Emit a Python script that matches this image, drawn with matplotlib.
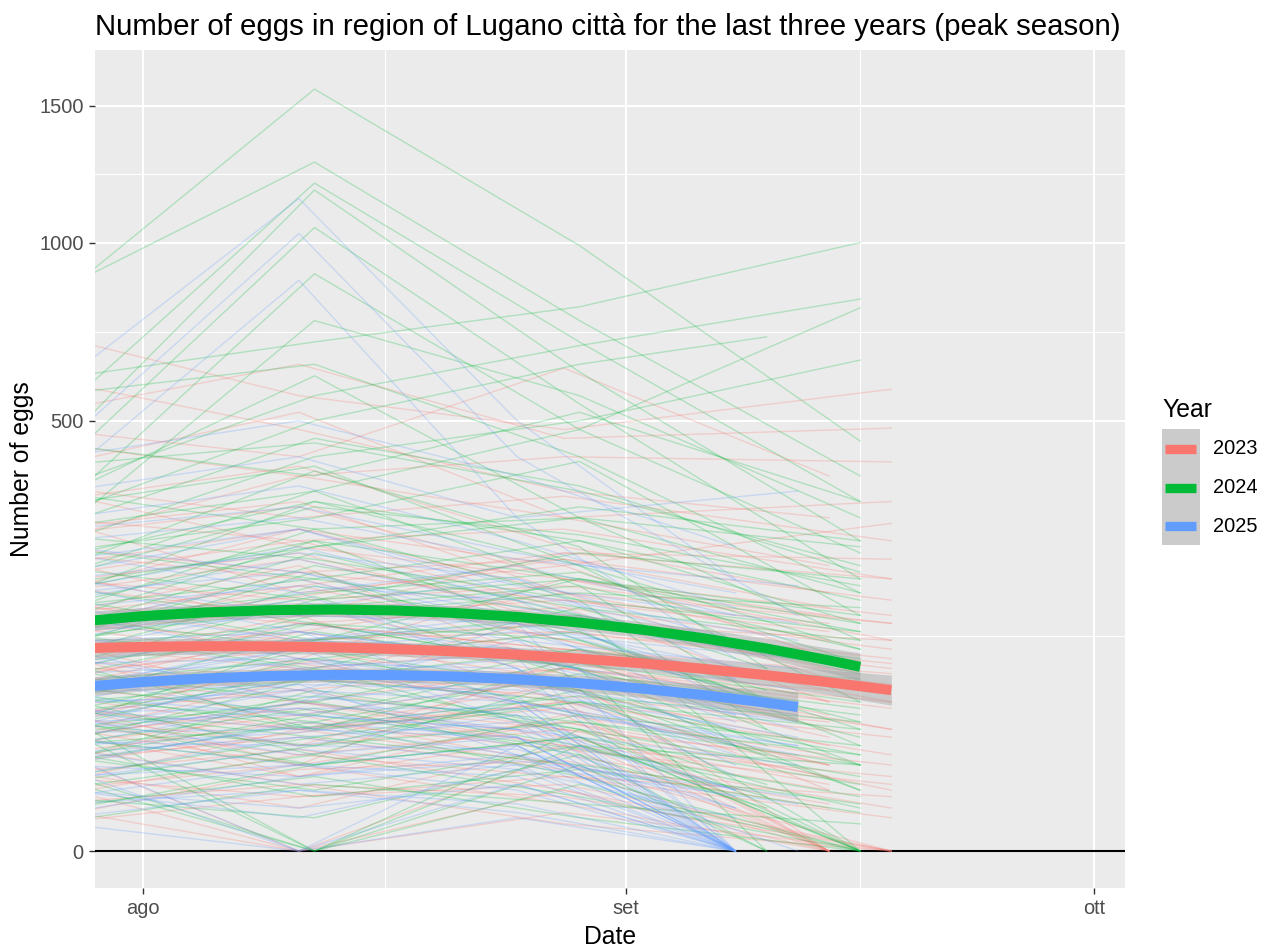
import matplotlib
matplotlib.use('Agg')
import matplotlib.pyplot as plt
import matplotlib.dates as mdates
from matplotlib.lines import Line2D
from matplotlib.patches import Rectangle
import numpy as np
from datetime import date

plt.rcParams['font.family'] = ['Liberation Sans', 'DejaVu Sans']

# ---------------- data ----------------
years = ['2023', '2024', '2025']
colors = {'2023': '#F8766D', '2024': '#00BA38', '2025': '#619CFF'}

# sampling dates of each season (a None in a trap row = no sample that day)
dates_2023 = ['2023-07-26', '2023-08-11', '2023-08-28', '2023-09-14', '2023-09-18']
dates_2024 = ['2024-07-26', '2024-08-12', '2024-08-29', '2024-09-10', '2024-09-16']
dates_2025 = ['2025-07-27', '2025-08-11', '2025-08-25', '2025-09-08', '2025-09-12']

# eggs per trap
traps_2023 = [
    [720, 560, 480, None, 576], [520, 640, 460, None, 483], [450, 380, 420, None, 409],
    [600, 480, 350, 300, None], [400, 520, 300, 220, None], [360, 300, 340, None, 260],
    [330, 400, 250, 180, None], [300, 260, 280, None, 200], [270, 320, 200, 150, None],
    [250, 210, 230, None, 170], [220, 280, 180, 120, None], [200, 170, 190, None, 140],
    [180, 230, 150, 90, None], [165, 140, 160, None, 110], [150, 190, 120, 60, None],
    [140, 120, 130, None, 95], [125, 160, 100, 40, None], [115, 90, 110, None, 75],
    [105, 130, 85, 0, None], [95, 70, 90, None, 55], [85, 110, 70, 30, None],
    [75, 50, 80, None, 40], [65, 90, 55, 0, None], [55, 40, 60, None, 25],
    [50, 70, 40, 15, None], [42, 20, 45, None, 10], [35, 55, 30, 0, None],
    [28, 0, 25, None, 5], [22, 35, 18, 0, None], [15, 8, 12, None, 0],
    [10, 20, 6, 0, None], [5, 0, 4, None, 0], [260, 380, 300, None, 330],
    [190, 150, 240, None, 230], [130, 210, 170, 130, None], [80, 120, 140, None, 120],
    [60, 30, 90, 70, None], [480, 420, 630, 380, None],
    [90, 150, 60, 20, None], [160, 100, 200, None, 150], [210, 140, 110, 80, None],
    [45, 95, 130, None, 90], [300, 180, 220, 100, None], [120, 60, 40, 0, None],
    [70, 130, 180, None, 140], [240, 200, 120, None, 60], [35, 80, 65, 45, None],
    [180, 280, 220, None, 290], [110, 40, 75, 10, None], [150, 220, 90, None, 40],
    [60, 20, 100, 50, None], [280, 330, 180, 80, None], [20, 60, 90, None, 60],
    [135, 175, 230, 160, None], [85, 60, 30, None, 15], [230, 150, 170, 140, None],
    [40, 100, 50, 0, None], [195, 240, 140, None, 100], [100, 80, 150, 100, None],
    [350, 250, 200, None, 120], [12, 40, 55, 20, None], [170, 120, 80, 35, None],
    [75, 140, 110, None, 85], [55, 15, 35, 0, None], [125, 190, 240, None, 200],
    [205, 260, 160, 60, None], [30, 50, 20, None, 0], [140, 95, 60, 0, None],
    [8, 25, 40, None, 20], [18, 5, 30, 10, None], [30, 12, 8, None, 0],
    [3, 18, 22, 6, None], [45, 25, 15, None, 8], [12, 0, 10, 0, None],
    [25, 45, 28, None, 12], [38, 15, 50, 25, None], [6, 12, 2, None, 0],
    [50, 30, 45, 20, None], [20, 38, 60, None, 35], [65, 40, 20, 5, None],
    [2, 8, 15, None, 3], [33, 60, 35, 12, None], [16, 28, 10, None, 0],
]
traps_2024 = [
    [805, 1568, 990, None, 454], [835, 1282, 760, None, 380], [500, 1205, 700, None, 330],
    [420, 1180, 620, None, 260], [380, 1050, 540, None, 200], [300, 900, 480, None, 240],
    [260, 760, 560, None, 300], [600, 700, 800, None, 1000], [350, 560, 690, None, 823],
    [200, 350, 480, None, 797], [250, 420, 500, None, 651], [300, 500, 640, 714, None],
    [560, 640, 420, None, 180], [450, 380, 520, None, 330], [330, 610, 300, None, 120],
    [280, 460, 360, None, 210], [240, 300, 410, None, 150], [210, 390, 250, 90, None],
    [190, 250, 300, None, 180], [170, 330, 220, None, 60], [160, 200, 260, None, 140],
    [150, 280, 170, 40, None], [140, 180, 210, None, 95], [130, 240, 150, None, 0],
    [120, 160, 190, None, 110], [110, 140, 120, 70, None], [100, 190, 130, None, 30],
    [95, 120, 150, None, 85], [90, 60, 110, None, 45], [80, 140, 90, 0, None],
    [75, 100, 70, None, 20], [70, 40, 95, None, 60], [60, 110, 50, None, 0],
    [55, 0, 40, None, 15], [50, 80, 60, 25, None], [45, 30, 70, None, 10],
    [40, 90, 35, None, 0], [35, 20, 50, None, 30], [30, 55, 25, 0, None],
    [25, 10, 30, None, 5], [20, 45, 15, None, 0], [15, 0, 20, 0, None],
    [10, 25, 8, None, 0], [5, 15, 3, None, 0],
    [180, 260, 120, None, 40], [90, 170, 200, None, 130], [250, 200, 150, None, 90],
    [60, 130, 90, 30, None], [320, 400, 220, None, 110], [130, 90, 160, None, 120],
    [200, 320, 270, None, 190], [110, 210, 100, None, 20], [40, 120, 140, None, 100],
    [280, 350, 190, 60, None], [150, 110, 70, None, 0], [85, 150, 180, None, 160],
    [220, 170, 240, None, 200], [65, 25, 80, None, 50], [350, 280, 300, None, 250],
    [120, 220, 160, 90, None], [30, 80, 110, None, 70], [190, 140, 90, None, 35],
    [160, 250, 320, None, 260], [100, 40, 60, None, 25], [270, 230, 170, None, 130],
    [50, 100, 130, 60, None], [140, 260, 200, None, 140], [230, 330, 260, None, 170],
    [75, 50, 100, None, 80], [400, 450, 350, None, 220], [20, 70, 40, None, 0],
    [175, 120, 200, None, 150], [115, 175, 80, None, 10], [45, 0, 30, None, 20],
    [12, 30, 45, None, 25], [28, 8, 18, None, 4], [40, 60, 30, 8, None],
    [4, 20, 35, None, 12], [55, 35, 60, None, 40], [18, 0, 12, None, 0],
    [35, 65, 45, None, 20], [8, 3, 25, 5, None], [65, 45, 85, None, 55],
    [22, 50, 28, None, 8], [48, 20, 35, None, 0], [2, 12, 6, None, 2],
    [30, 42, 65, None, 45], [58, 80, 40, 12, None], [14, 35, 20, None, 6],
]
traps_2025 = [
    [600, 1150, 500, 200, None], [450, 1030, 420, None, 150], [380, 880, 300, 100, None],
    [420, 500, 380, 250, None], [350, 420, 300, None, 350], [300, 360, 260, 160, None],
    [260, 300, 230, None, 190], [230, 280, 180, 120, None], [200, 240, 200, 90, None],
    [180, 210, 150, None, 100], [160, 190, 170, 60, None], [145, 160, 120, 30, None],
    [130, 150, 140, None, 80], [118, 130, 100, 0, None], [105, 120, 110, 45, None],
    [95, 100, 85, None, 50], [85, 95, 90, 20, None], [75, 80, 65, 0, None],
    [68, 75, 70, None, 35], [60, 65, 50, 10, None], [52, 55, 55, 0, None],
    [45, 50, 40, None, 20], [38, 40, 35, 0, None], [32, 30, 28, 5, None],
    [26, 35, 20, 0, None], [20, 15, 22, None, 8], [15, 20, 10, 0, None],
    [10, 5, 12, 0, None], [6, 10, 4, 0, None], [2, 0, 3, 0, None],
    [110, 60, 140, 80, None], [70, 110, 45, 0, None], [40, 70, 60, 30, None],
    [25, 0, 30, 0, None],
    [120, 180, 90, 0, None], [200, 150, 180, None, 120], [70, 120, 150, 80, None],
    [250, 210, 140, 50, None], [40, 90, 60, None, 30], [150, 100, 60, 0, None],
    [90, 140, 110, None, 70], [30, 60, 80, 40, None], [170, 230, 160, None, 110],
    [55, 30, 50, 0, None], [110, 160, 200, 120, None], [210, 280, 190, None, 140],
    [80, 50, 40, 0, None], [140, 200, 130, 70, None], [20, 45, 35, 0, None],
    [190, 130, 100, None, 60], [60, 100, 75, 25, None], [100, 70, 120, None, 90],
    [240, 180, 220, 150, None], [35, 20, 15, 0, None], [130, 170, 90, 15, None],
    [75, 110, 130, None, 100], [15, 35, 45, 10, None], [160, 120, 140, 0, None],
    [50, 75, 25, None, 0], [280, 320, 240, 180, None], [95, 130, 60, 0, None],
    [125, 90, 105, None, 40], [45, 80, 100, 50, None], [185, 250, 170, 110, None],
    [8, 20, 30, 0, None], [28, 12, 20, None, 6], [40, 55, 30, 0, None],
    [4, 15, 25, 8, None], [55, 40, 60, None, 25], [18, 0, 12, 0, None],
    [35, 60, 40, 10, None], [10, 3, 18, 0, None], [65, 50, 75, None, 45],
    [22, 42, 25, 0, None], [48, 25, 35, 5, None], [3, 10, 6, 0, None],
    [30, 38, 55, None, 30], [58, 70, 35, 0, None], [14, 28, 18, 3, None],
]

# smoothed trend per year (month-day, eggs) and its band half width in sqrt units
smooth_dates_2023 = ['07-28', '08-01', '08-05', '08-09', '08-13', '08-17', '08-21', '08-25',
                     '08-29', '09-02', '09-06', '09-10', '09-14', '09-18']
smooth_2023 = [111.1, 112.6, 113.4, 113.2, 112.2, 110.3, 107.7, 104.2, 100.0, 95.2, 89.6, 83.5, 76.9, 69.9]
se_2023 = [0.5, 0.45, 0.4, 0.37, 0.36, 0.36, 0.36, 0.37, 0.39, 0.42, 0.47, 0.54, 0.64, 0.78]
smooth_dates_2024 = ['07-28', '08-01', '08-05', '08-09', '08-13', '08-17', '08-21', '08-25',
                     '08-29', '09-02', '09-06', '09-10', '09-14', '09-16']
smooth_2024 = [142.3, 149.1, 153.8, 156.6, 157.6, 156.4, 153.1, 148.1, 141.0, 132.4, 122.2, 110.8, 98.2, 91.7]
se_2024 = [0.5, 0.45, 0.4, 0.37, 0.36, 0.36, 0.36, 0.37, 0.39, 0.42, 0.47, 0.54, 0.64, 0.72]
smooth_dates_2025 = ['07-28', '08-01', '08-05', '08-09', '08-13', '08-17', '08-21', '08-25',
                     '08-29', '09-02', '09-06', '09-10', '09-12']
smooth_2025 = [72.7, 77.2, 80.5, 82.7, 83.8, 83.6, 82.3, 79.7, 76.1, 71.3, 65.7, 59.4, 56.0]
se_2025 = [0.5, 0.45, 0.4, 0.37, 0.36, 0.36, 0.37, 0.39, 0.42, 0.47, 0.55, 0.68, 0.78]

y_ticks = [0, 500, 1000, 1500]
x_ticks = ['2025-08-01', '2025-09-01', '2025-10-01']
x_labels = ['ago', 'set', 'ott']


def season_day(s):
    # put every season on the same calendar year
    p = s.split('-')
    return mdates.date2num(date(2025, int(p[-2]), int(p[-1])))


def fwd(v):
    return np.sign(v) * np.sqrt(np.abs(v))


def inv(v):
    return np.sign(v) * v ** 2


# ---------------- figure ----------------
W, H = 1269, 949
fig = plt.figure(figsize=(W / 100, H / 100), dpi=100)
ax = fig.add_axes([95 / W, 1 - 888 / H, 1030 / W, 838 / H])
ax.set_facecolor('#EBEBEB')
ax.set_axisbelow(True)
ax.set_yscale('function', functions=(fwd, inv))

ax.axhline(0, color='black', lw=1.5, zorder=1)

all_dates = {'2023': dates_2023, '2024': dates_2024, '2025': dates_2025}
all_traps = {'2023': traps_2023, '2024': traps_2024, '2025': traps_2025}
for yr in years:
    xd = [season_day(d) for d in all_dates[yr]]
    for row in all_traps[yr]:
        xs = [x for x, v in zip(xd, row) if v is not None]
        vs = [v for v in row if v is not None]
        ax.plot(xs, vs, color=colors[yr], alpha=0.25, lw=1.0, zorder=2)

smooths = {
    '2023': (smooth_dates_2023, smooth_2023, se_2023),
    '2024': (smooth_dates_2024, smooth_2024, se_2024),
    '2025': (smooth_dates_2025, smooth_2025, se_2025),
}
for yr in years:
    sd, sv, se = smooths[yr]
    xs = [season_day(d) for d in sd]
    root = np.sqrt(np.array(sv, dtype=float))
    lo = (root - np.array(se)) ** 2
    hi = (root + np.array(se)) ** 2
    ax.fill_between(xs, lo, hi, color='#999999', alpha=0.4, lw=0, zorder=3)
    ax.plot(xs, sv, color=colors[yr], lw=7.2, solid_capstyle='butt',
            solid_joinstyle='round', zorder=4)

# axes limits (ggplot style expansion)
aug1 = season_day('08-01')
ax.set_xlim(aug1 - 3.08, aug1 + 62.99)
ax.set_ylim(inv(-1.92), inv(41.63))

ax.set_yticks(y_ticks)
ax.set_yticklabels([str(t) for t in y_ticks])
ax.set_xticks([season_day(t) for t in x_ticks])
ax.set_xticklabels(x_labels)

# minor grid at the middle of the major breaks (in transformed space)
ymin = [inv((fwd(a) + fwd(b)) / 2) for a, b in zip(y_ticks[:-1], y_ticks[1:])]
xt = [season_day(t) for t in x_ticks]
xmin = [(a + b) / 2 for a, b in zip(xt[:-1], xt[1:])]
for v in ymin:
    ax.axhline(v, color='white', lw=0.75, zorder=0.5)
for v in xmin:
    ax.axvline(v, color='white', lw=0.75, zorder=0.5)
ax.grid(True, which='major', color='white', lw=1.5)
ax.minorticks_off()

for s in ax.spines.values():
    s.set_visible(False)
ax.tick_params(axis='both', length=4.5, width=1.0, color='#333333',
               labelcolor='#4D4D4D', labelsize=14.4, pad=3.6)

ax.set_xlabel('Date', fontsize=17.8, color='black', va='center')
ax.xaxis.set_label_coords(0.5, (888 - 937) / 838)
ax.set_ylabel('Number of eggs', fontsize=17.8, color='black', va='center')
ax.yaxis.set_label_coords((22 - 95) / 1030, 0.5)
fig.text(95 / W, 1 - 35 / H, 'Number of eggs in region of Lugano città for the last three years (peak season)',
         fontsize=21.2, ha='left', va='baseline', color='black')

# ---------------- legend ----------------
fig.text(1162 / W, 1 - 417 / H, 'Year', fontsize=17.8, ha='left', va='baseline')
fig.add_artist(Rectangle((1162 / W, 1 - 545 / H), 38 / W, 116 / H,
                         transform=fig.transFigure, facecolor='#CBCBCB', edgecolor='none'))
key_y = [449, 487.5, 526]
for yr, ky in zip(years, key_y):
    fig.add_artist(Line2D([1165 / W, 1196 / W], [1 - ky / H, 1 - ky / H], transform=fig.transFigure,
                          color=colors[yr], lw=6.7, solid_capstyle='butt'))
    fig.text(1213 / W, 1 - ky / H, yr, fontsize=14.4, ha='left', va='center')

fig.savefig('out.png', dpi=100)
